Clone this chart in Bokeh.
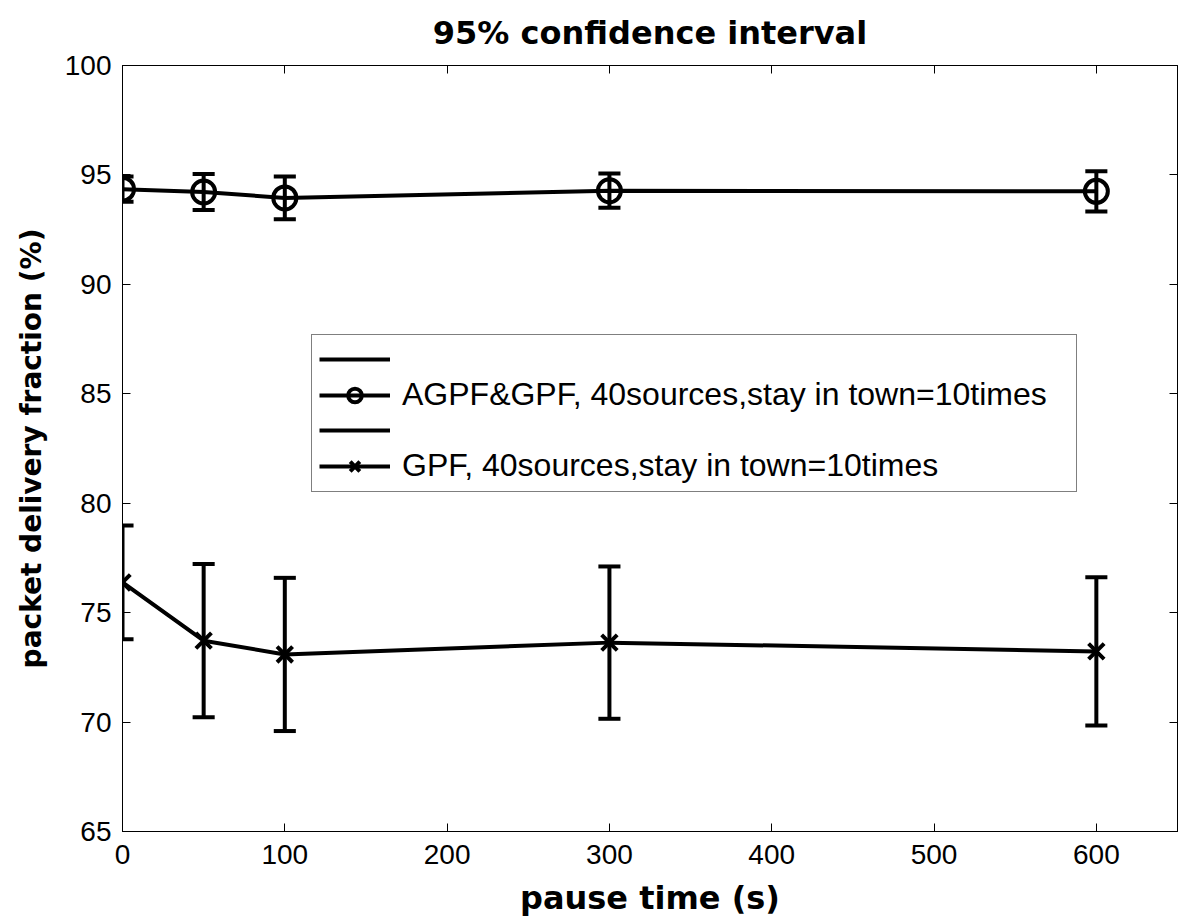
from bokeh.plotting import figure
from bokeh.models import Range1d, FixedTicker, LinearAxis, Legend, LegendItem, ColumnDataSource
from bokeh.embed import file_html
from bokeh.resources import INLINE

# ---------------- data ----------------
pause_time = [0, 50, 100, 300, 600]
agpf_mean = [94.35, 94.22, 93.95, 94.28, 94.25]
agpf_ci = [0.58, 0.82, 0.98, 0.78, 0.92]
gpf_mean = [76.38, 73.72, 73.09, 73.63, 73.23]
gpf_ci = [2.60, 3.50, 3.50, 3.48, 3.39]
x_ticks = [0, 100, 200, 300, 400, 500, 600]
y_ticks = [65, 70, 75, 80, 85, 90, 95, 100]
label_agpf = "AGPF&GPF, 40sources,stay in town=10times"
label_gpf = "GPF, 40sources,stay in town=10times"

CAP = 6.8  # half cap width in x data units (style)

def err_sources(x, m, c):
    lo = [a - b for a, b in zip(m, c)]
    hi = [a + b for a, b in zip(m, c)]
    bars = ColumnDataSource(dict(x=x, lo=lo, hi=hi))
    caps = ColumnDataSource(dict(
        x0=[v - CAP for v in x] * 2, x1=[v + CAP for v in x] * 2, y=lo + hi))
    return bars, caps

p = figure(width=1178, height=919, output_backend="svg", toolbar_location=None,
           x_range=Range1d(0, 650), y_range=Range1d(65, 100),
           min_border_left=122, min_border_right=1, min_border_top=65, min_border_bottom=88)
p.grid.visible = False
p.outline_line_color = "black"
p.outline_line_width = 1
p.background_fill_color = "white"
p.border_fill_color = "white"

p.title.text = "95% confidence interval"
p.title.align = "center"
p.title.vertical_align = "top"
p.title.text_font = "DejaVu Sans"
p.title.text_font_size = "32px"
p.title.text_font_style = "bold"
p.title.text_color = "black"
p.title.standoff = 23

for ax in (p.xaxis[0], p.yaxis[0]):
    ax.major_label_text_font = "Liberation Sans"
    ax.major_label_text_font_size = "28px"
    ax.major_label_text_color = "black"
    ax.major_tick_in = 8
    ax.major_tick_out = 0
    ax.minor_tick_line_color = None
    ax.axis_line_color = "black"
    ax.major_tick_line_color = "black"
    ax.axis_label_text_font = "DejaVu Sans"
    ax.axis_label_text_font_style = "bold"
    ax.axis_label_text_color = "black"

p.xaxis.ticker = FixedTicker(ticks=x_ticks)
p.yaxis.ticker = FixedTicker(ticks=y_ticks)
p.xaxis.axis_label = "pause time (s)"
p.xaxis.axis_label_text_font_size = "32px"
p.xaxis.major_label_standoff = 13
p.xaxis.axis_label_standoff = 12
p.yaxis.axis_label = "packet delivery fraction (%)"
p.yaxis.axis_label_text_font_size = "28px"
p.yaxis.major_label_standoff = 11
p.yaxis.axis_label_standoff = 14

for loc, tk in (("above", x_ticks), ("right", y_ticks)):
    a = LinearAxis(ticker=FixedTicker(ticks=tk), major_tick_in=8, major_tick_out=0,
                   minor_tick_line_color=None, major_label_text_font_size="1px",
                   major_label_text_color=None,
                   major_label_standoff=0, axis_line_color="black",
                   major_tick_line_color="black")
    p.add_layout(a, loc)

# AGPF series
bars_a, caps_a = err_sources(pause_time, agpf_mean, agpf_ci)
eb_a = p.segment(x0="x", y0="lo", x1="x", y1="hi", source=bars_a, line_color="black", line_width=4)
p.segment(x0="x0", y0="y", x1="x1", y1="y", source=caps_a, line_color="black", line_width=4)
ln_a = p.line(pause_time, agpf_mean, line_color="black", line_width=4)
mk_a = p.scatter(pause_time, agpf_mean, marker="circle", size=23, line_color="black",
                 line_width=4, fill_color=None)

# GPF series
bars_g, caps_g = err_sources(pause_time, gpf_mean, gpf_ci)
eb_g = p.segment(x0="x", y0="lo", x1="x", y1="hi", source=bars_g, line_color="black", line_width=4)
p.segment(x0="x0", y0="y", x1="x1", y1="y", source=caps_g, line_color="black", line_width=4)
ln_g = p.line(pause_time, gpf_mean, line_color="black", line_width=4)
mk_g = p.scatter(pause_time, gpf_mean, marker="x", size=22, line_color="black", line_width=4)

legend = Legend(items=[
    LegendItem(label=" ", renderers=[eb_a]),
    LegendItem(label=label_agpf, renderers=[ln_a, mk_a]),
    LegendItem(label=" ", renderers=[eb_g]),
    LegendItem(label=label_gpf, renderers=[ln_g, mk_g]),
], location=(189, 339))
legend.label_text_font = "Liberation Sans"
legend.label_text_font_size = "32px"
legend.label_text_color = "black"
legend.glyph_width = 71
legend.glyph_height = 34
legend.label_height = 34
legend.label_width = 667
legend.label_standoff = 12
legend.spacing = 0
legend.padding = 7
legend.margin = 0
legend.border_line_color = "black"
legend.border_line_width = 1
legend.background_fill_alpha = 1
p.add_layout(legend, "center")

open("out.html", "w").write(file_html(p, INLINE))
